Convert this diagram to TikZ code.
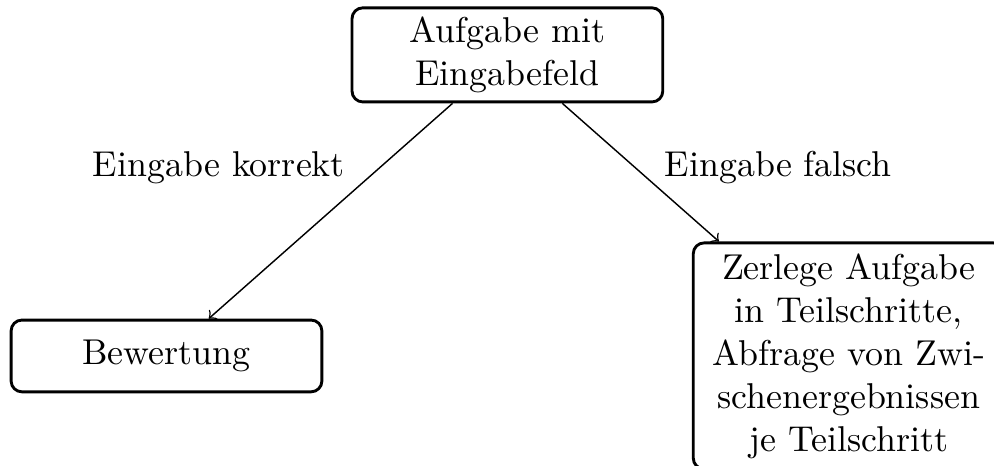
\documentclass[tikz,border=0pt]{standalone}
\usetikzlibrary{positioning}
\begin{document}
\begin{tikzpicture}[x=1pt,y=1pt,
  box/.style={draw,thick,rounded corners=3pt,align=center,inner sep=2.5pt,minimum width=86.6pt,minimum height=20pt},
  lbl/.style={anchor=base,inner sep=0pt},
  conn/.style={->,thin}]
\useasboundingbox (0,0) rectangle (277,-129.86);
\node[box] (top) at (141.4,-15.3) {Aufgabe mit\\Eingabefeld};
\node[box] (bew) at (46.4,-99.2) {Bewertung};
\node[box,minimum height=63pt] (zer) at (236.5,-99.2) {Zerlege Aufgabe\\in Teilschritte,\\Abfrage von Zwi-\\schenergebnissen\\je Teilschritt};
\draw[conn] (top) -- (bew);
\draw[conn] (top) -- (zer);
\node[lbl] (lk) at (61,-49.2) {Eingabe korrekt};
\node[lbl] (lf) at (216.9,-49.2) {Eingabe falsch};
\end{tikzpicture}
\end{document}
